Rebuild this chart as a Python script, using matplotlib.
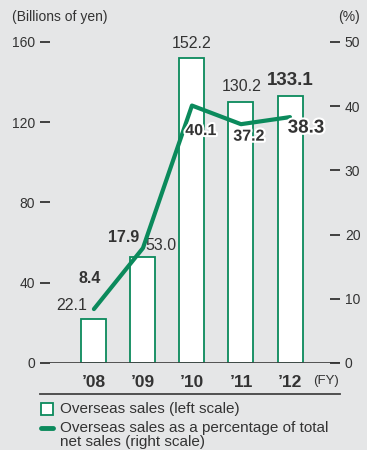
import numpy as np
import matplotlib.pyplot as plt
import matplotlib.patheffects as pe
from matplotlib.lines import Line2D
from matplotlib.patches import Rectangle

plt.rcParams['font.family'] = ['Liberation Sans', 'DejaVu Sans']

years = ["’08", "’09", "’10", "’11", "’12"]
sales = [22.1, 53.0, 152.2, 130.2, 133.1]        # billions of yen
share = [8.4, 17.9, 40.1, 37.2, 38.3]            # % of total net sales
left_ticks = [0, 40, 80, 120, 160]
right_ticks = [0, 10, 20, 30, 40, 50]

# label offsets in pixels (bar labels, line labels)
bar_off = [(-22, 13), (18, 11), (0, 14), (1, 15), (0, 15)]
pct_off = [(-4, 31), (-19, 11), (9, -25), (8, -12), (16, -11)]

green = '#0b8a5c'
ink = '#333333'
bg = '#e5e6e7'

W, H = 367, 450
fig = plt.figure(figsize=(W / 100, H / 100), dpi=100, facecolor=bg)
ax = fig.add_axes([40 / W, 87 / H, 300 / W, 321 / H])
ax.set_facecolor('none')
x = np.arange(len(years))

ax.bar(x, sales, width=0.51, color='white', edgecolor=green, linewidth=1.3, zorder=2)
ax.set_xlim(-1.10, 5.02)
ax.set_ylim(0, 160)

for s in ax.spines.values():
    s.set_visible(False)
ax.axhline(0, color='#444444', lw=2, zorder=3)

ax.set_yticks(left_ticks)
ax.tick_params(axis='y', direction='in', length=7.5, width=1.3, color=ink,
               labelsize=10, labelcolor=ink, pad=3.5)
ax.set_xticks(x)
ax.set_xticklabels(years, fontsize=12.5, fontweight='bold', color=ink)
ax.tick_params(axis='x', length=0, pad=8.5)

ax2 = ax.twinx()
for s in ax2.spines.values():
    s.set_visible(False)
ax2.set_ylim(0, 50)
ax2.set_yticks(right_ticks)
ax2.tick_params(axis='y', direction='in', length=7.5, width=1.3, color=ink,
                labelsize=10, labelcolor=ink, pad=3.5)
ax2.plot(x, share, color=green, lw=3, solid_capstyle='round', zorder=3)

halo = [pe.withStroke(linewidth=3, foreground='white')]
for i in range(len(years)):
    last = i == len(years) - 1
    ax.annotate(f"{sales[i]:.1f}", (x[i], sales[i]), xytext=bar_off[i],
                textcoords='offset pixels', ha='center', va='center',
                fontsize=13.5 if last else 11.5,
                fontweight='bold' if last else 'normal', color=ink, zorder=5)
    t = ax2.annotate(f"{share[i]:.1f}", (x[i], share[i]), xytext=pct_off[i],
                     textcoords='offset pixels', ha='center', va='center',
                     fontsize=13.5 if last else 11.5, fontweight='bold',
                     color=ink, zorder=5)
    if i >= 2:
        t.set_path_effects(halo)

ax.text(4.99, -0.055, '(FY)', transform=ax.get_xaxis_transform(), fontsize=9.5,
        color=ink, ha='right', va='center')
fig.text(12 / W, 1 - 17 / H, '(Billions of yen)', fontsize=10, color=ink, va='center')
fig.text(360 / W, 1 - 17 / H, '(%)', fontsize=10, color=ink, va='center', ha='right')

# rule under the year labels
fig.add_artist(Line2D([40 / W, 340 / W], [1 - 394 / H] * 2, color='#444444', lw=1.3))

# legend
fig.add_artist(Rectangle((41 / W, 1 - 415 / H), 12 / W, 12 / H, facecolor='white',
                         edgecolor=green, lw=1.3))
fig.text(60 / W, 1 - 409 / H, 'Overseas sales (left scale)', fontsize=11,
         color=ink, va='center')
fig.add_artist(Line2D([41 / W, 53 / W], [1 - 428 / H] * 2, color=green, lw=3.5,
                      solid_capstyle='round'))
fig.text(60 / W, 1 - 428 / H, 'Overseas sales as a percentage of total',
         fontsize=11, color=ink, va='center')
fig.text(60 / W, 1 - 442 / H, 'net sales (right scale)',
         fontsize=11, color=ink, va='center')

fig.savefig('out.png', dpi=100, facecolor=bg)
